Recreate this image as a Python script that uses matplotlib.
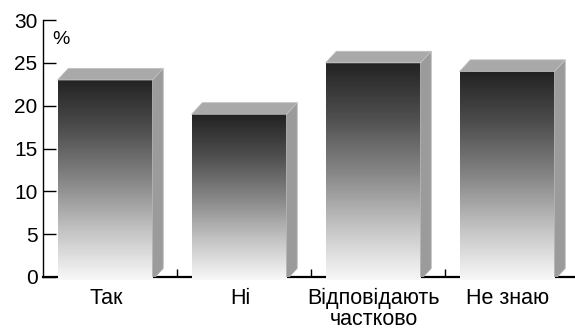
import numpy as np
import matplotlib
matplotlib.use("Agg")
import matplotlib.pyplot as plt
from matplotlib.patches import Polygon, Rectangle

plt.rcParams['font.family'] = ['Liberation Sans', 'DejaVu Sans']

# survey answers, percent
categories = ["Так", "Ні", "Відповідають\nчастково", "Не знаю"]
values = [23, 19, 25, 24]
yticks = [0, 5, 10, 15, 20, 25, 30]

fig = plt.figure(figsize=(5.75, 3.29), dpi=100)
ax = fig.add_axes([43 / 575, 52 / 329, 532 / 575, 257 / 329])

# 3d box geometry in data units
off = -0.037      # shift of front face from category centre
half = 0.354      # half width of front face
dx, dy = 0.08, 1.35
base = -0.35

grad = np.linspace(0, 1, 256).reshape(-1, 1)
cmap = matplotlib.colors.LinearSegmentedColormap.from_list(
    "face", ["#f8f8f8", "#c2c2c2", "#858585", "#4e4e4e", "#222222"])

for i, v in enumerate(values):
    x0 = i + off - half
    x1 = i + off + half
    # front face with vertical gradient
    im = ax.imshow(grad, extent=[x0, x1, base, v], origin="lower", cmap=cmap,
                   aspect="auto", zorder=3, vmin=0, vmax=1)
    clip = Rectangle((x0, base), x1 - x0, v - base, transform=ax.transData)
    im.set_clip_path(clip)
    # side face
    side = Polygon([(x1, base), (x1 + dx, base + dy), (x1 + dx, v + dy), (x1, v)],
                   closed=True, facecolor="#9b9b9b", edgecolor="#b5b5b5",
                   linewidth=0.6, zorder=3)
    ax.add_patch(side)
    # top face
    top = Polygon([(x0, v), (x1, v), (x1 + dx, v + dy), (x0 + dx, v + dy)],
                  closed=True, facecolor="#a9a9a9", edgecolor="#c0c0c0",
                  linewidth=0.6, zorder=3)
    ax.add_patch(top)

ax.set_xlim(-0.5, 3.47)
ax.set_ylim(0, 30)

ax.spines['top'].set_visible(False)
ax.spines['right'].set_visible(False)
ax.spines['left'].set_linewidth(1.0)
ax.spines['bottom'].set_linewidth(1.6)
ax.spines['left'].set_zorder(1)
ax.spines['bottom'].set_zorder(1)

ax.set_yticks(yticks)
ax.set_yticklabels([str(t) for t in yticks], fontsize=15)
ax.tick_params(axis='y', direction='in', length=9, width=1.0, pad=4)

ax.set_xticks([i - 0.03 for i in range(len(categories))])
ax.set_xticklabels(categories, fontsize=15.5, linespacing=1.0)
ax.set_xticks([0.5, 1.5, 2.5], minor=True)
ax.tick_params(axis='x', which='major', length=0, pad=8)
ax.tick_params(axis='x', which='minor', direction='in', length=6, width=1.0)

ax.text(-0.43, 27.7, "%", fontsize=14, va="center", ha="left")

fig.savefig("out.png", dpi=100)
